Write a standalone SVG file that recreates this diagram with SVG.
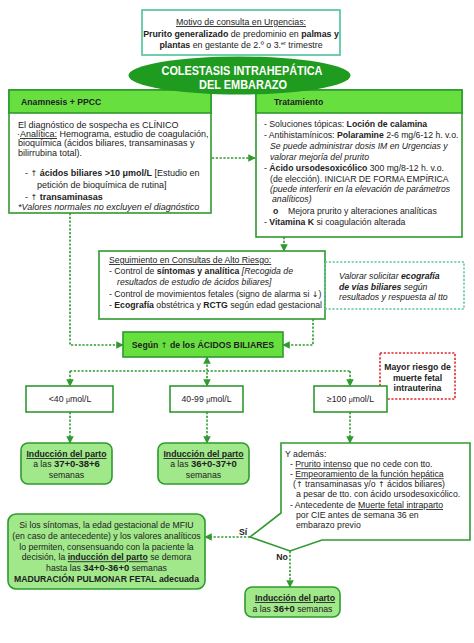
<svg xmlns="http://www.w3.org/2000/svg" width="474" height="643" viewBox="0 0 474 643">
<defs>
<style>
text{font-family:"Liberation Sans",Arial,sans-serif;font-size:8.7px;fill:#222}
.b{font-weight:bold}
.i{font-style:italic}
.u{text-decoration:underline}
.c{text-anchor:middle}
.ar{font-family:"DejaVu Sans",sans-serif;font-size:8px}
.box{fill:#fff;stroke:#2f9a2f;stroke-width:1.6}
.hdr{fill:#67e03f;stroke:#2f9a2f;stroke-width:1.6}
.ind{fill:#a0e88a;stroke:#2f9a2f;stroke-width:1.6}
.con{fill:none;stroke:#2f9a2f;stroke-width:1.6;stroke-dasharray:2.2 1.6}
.teal{fill:#fff;stroke:#5fc8a4;stroke-width:1.8}
.tdash{fill:none;stroke:#5fc8a4;stroke-width:1.6;stroke-dasharray:2.2 1.6}
.red{fill:#fff;stroke:#e0282e;stroke-width:1.6;stroke-dasharray:2.2 1.6}
</style>
<marker id="ah" viewBox="0 0 10 10" refX="9" refY="5" markerWidth="7.5" markerHeight="7.5" markerUnits="userSpaceOnUse" orient="auto-start-reverse">
<path d="M0,0 L10,5 L0,10 z" fill="#2f9a2f"/>
</marker>
</defs>
<rect width="474" height="643" fill="#fff"/>

<g id="connectors">
<path class="con" d="M212,158 H255" marker-end="url(#ah)"/>
<path class="con" d="M284,237 V251" marker-end="url(#ah)"/>
<path class="con" d="M70,213 V345 H123" marker-end="url(#ah)"/>
<path class="con" d="M313,319 V345 H283" marker-end="url(#ah)"/>
<path class="con" d="M207,357 V386" marker-start="url(#ah)" marker-end="url(#ah)"/>
<path class="con" d="M70,371 H350"/>
<path class="con" d="M70,371 V386" marker-end="url(#ah)"/>
<path class="con" d="M350,371 V386" marker-end="url(#ah)"/>
<path class="con" d="M70,412 V443" marker-end="url(#ah)"/>
<path class="con" d="M207,412 V443" marker-end="url(#ah)"/>
<path class="con" d="M350,412 V443" marker-end="url(#ah)"/>
<path class="con" d="M250,537 H205" marker-end="url(#ah)"/>
<path class="con" d="M290,551 V587" marker-end="url(#ah)"/>
<text class="b" x="243" y="535" text-anchor="middle">Sí</text>
<text class="b" x="282" y="560" text-anchor="middle">No</text>
</g>

<g id="motivo">
<rect class="teal" x="142" y="10" width="198" height="45"/>
<text class="c" x="241" y="25" style="font-size:8.8px"><tspan class="u">Motivo de consulta en Urgencias:</tspan></text>
<text class="c" x="241" y="36.5" style="font-size:8.8px"><tspan class="b">Prurito generalizado</tspan> de predominio en <tspan class="b">palmas y</tspan></text>
<text class="c" x="241" y="48" style="font-size:8.8px"><tspan class="b">plantas</tspan> en gestante de 2.º o 3.<tspan dy="-3" style="font-size:5.5px">er</tspan><tspan dy="3"> trimestre</tspan></text>
</g>

<g id="anamnesis">
<rect class="box" x="9" y="90" width="202" height="123"/>
<rect class="hdr" x="9" y="90" width="202" height="23"/>
<text class="b" x="21" y="104.5">Anamnesis + PPCC</text>
<text x="18" y="128" style="font-size:9px">El diagnóstico de sospecha es CLÍNICO</text>
<text x="17" y="137" style="font-size:9px">·<tspan class="u">Analítica:</tspan> Hemograma, estudio de coagulación,</text>
<text x="18" y="146.3" style="font-size:9px">bioquímica (ácidos biliares, transaminasas y</text>
<text x="18" y="155.6" style="font-size:9px">bilirrubina total).</text>
<text x="25" y="175.5" style="font-size:9px">- <tspan class="ar">↑</tspan> <tspan class="b">ácidos biliares &gt;10 μmol/L</tspan> [Estudio en</text>
<text x="37" y="188" style="font-size:9px">petición de bioquímica de rutina]</text>
<text x="25" y="199.5" style="font-size:9px">- <tspan class="ar">↑</tspan> <tspan class="b">transaminasas</tspan></text>
<text class="i" x="18" y="210" style="font-size:9px">*Valores normales no excluyen el diagnóstico</text>
</g>

<g id="tratamiento">
<rect class="box" x="256" y="90" width="206" height="147"/>
<rect class="hdr" x="256" y="90" width="206" height="23"/>
<text class="b" x="274" y="104.5">Tratamiento</text>
<text x="264" y="127">- Soluciones tópicas: <tspan class="b">Loción de calamina</tspan></text>
<text x="264" y="138">- Antihistamínicos: <tspan class="b">Polaramine</tspan> 2-6 mg/6-12 h. v.o.</text>
<text class="i" x="270" y="149">Se puede administrar dosis IM en Urgencias y</text>
<text class="i" x="270" y="159.7">valorar mejoría del prurito</text>
<text x="264" y="170.7">- <tspan class="b">Ácido ursodesoxicólico</tspan> 300 mg/8-12 h. v.o.</text>
<text x="270" y="181.7">(de elección). INICIAR DE FORMA EMPÍRICA</text>
<text class="i" x="270" y="192.3">(puede interferir en la elevación de parámetros</text>
<text class="i" x="272" y="202.3">analíticos)</text>
<text class="b" x="273" y="213.7">o</text>
<text x="288" y="213.7">Mejora prurito y alteraciones analíticas</text>
<text x="264" y="224.7">- <tspan class="b">Vitamina K</tspan> si coagulación alterada</text>
</g>

<g id="colestasis">
<ellipse cx="239.5" cy="75.5" rx="111" ry="19" fill="#1f9c1f"/>
<text class="b c" x="242" y="74.5" style="font-size:13px;fill:#fff" textLength="161" lengthAdjust="spacingAndGlyphs">COLESTASIS INTRAHEPÁTICA</text>
<text class="b c" x="243" y="89" style="font-size:13px;fill:#fff" textLength="88" lengthAdjust="spacingAndGlyphs">DEL EMBARAZO</text>
</g>

<g id="seguimiento">
<rect class="box" x="99" y="251" width="226" height="68"/>
<text class="u" x="109" y="263">Seguimiento en Consultas de Alto Riesgo:</text>
<text x="109" y="274">- Control de <tspan class="b">síntomas y analítica</tspan> <tspan class="i">[Recogida de</tspan></text>
<text class="i" x="117" y="284.7">resultados de estudio de ácidos biliares]</text>
<text x="109" y="297">- Control de movimientos fetales (signo de alarma si <tspan class="ar">↓</tspan>)</text>
<text x="109" y="307.5">- <tspan class="b">Ecografía</tspan> obstétrica y <tspan class="b">RCTG</tspan> según edad gestacional</text>
</g>

<g id="ecografia">
<rect class="tdash" x="325" y="262" width="139" height="47"/>
<text class="i" x="339" y="279">Valorar solicitar <tspan class="b">ecografía</tspan></text>
<text class="i" x="339" y="289.5"><tspan class="b">de vías biliares</tspan> según</text>
<text class="i" x="339" y="300">resultados y respuesta al tto</text>
</g>

<g id="segun">
<rect class="hdr" x="123" y="332" width="160" height="25"/>
<text class="b c" x="203" y="348.3">Según <tspan class="ar" style="font-weight:normal">↑</tspan> de los ÁCIDOS BILIARES</text>
</g>

<g id="riesgo">
<rect class="red" x="380" y="353" width="75" height="46"/>
<text class="b c" x="417.5" y="370">Mayor riesgo de</text>
<text class="b c" x="417.5" y="380.5">muerte fetal</text>
<text class="b c" x="417.5" y="391">intrauterina</text>
</g>

<g id="menos40">
<rect class="box" x="26" y="386" width="87" height="26"/>
<text class="c" x="70" y="402">&lt;40 <tspan style="font-size:7px">μ</tspan>mol/L</text>
</g>
<g id="de40a99">
<rect class="box" x="170" y="386" width="73" height="26"/>
<text class="c" x="206.5" y="402">40-99 <tspan style="font-size:7px">μ</tspan>mol/L</text>
</g>
<g id="mas100">
<rect class="box" x="314" y="386" width="73" height="26"/>
<text class="c" x="350.5" y="402">≥100 <tspan style="font-size:7px">μ</tspan>mol/L</text>
</g>

<g id="induccion1">
<rect class="ind" x="21" y="443" width="91" height="41" rx="7"/>
<text class="b u c" x="66.5" y="457">Inducción del parto</text>
<text class="c" x="66.5" y="467.3">a las <tspan class="b" style="font-size:9.5px">37+0-38+6</tspan></text>
<text class="c" x="66.5" y="477.8">semanas</text>
</g>
<g id="induccion2">
<rect class="ind" x="158" y="443" width="91" height="41" rx="7"/>
<text class="b u c" x="203.5" y="457">Inducción del parto</text>
<text class="c" x="203.5" y="467.3">a las <tspan class="b" style="font-size:9.5px">36+0-37+0</tspan></text>
<text class="c" x="203.5" y="477.8">semanas</text>
</g>

<g id="ademas">
<path class="box" d="M281,443 H470 V540 H322 L290,551 L250,537 L281,513 Z" stroke-linejoin="miter"/>
<text x="285" y="457">Y además:</text>
<text x="290" y="467.3">- <tspan class="u">Prurito intenso</tspan> que no cede con tto.</text>
<text x="290" y="477.3">- <tspan class="u">Empeoramiento de la función hepática</tspan></text>
<text x="293" y="487.3">(<tspan class="ar">↑</tspan> transaminasas y/o <tspan class="ar">↑</tspan> ácidos biliares)</text>
<text x="296" y="497.3">a pesar de tto. con ácido ursodesoxicólico.</text>
<text x="290" y="508">- Antecedente de <tspan class="u">Muerte fetal intraparto</tspan></text>
<text x="296" y="518">por CIE antes de semana 36 en</text>
<text x="296" y="528">embarazo previo</text>
</g>

<g id="demora">
<rect class="ind" x="8" y="514" width="197" height="75" rx="8"/>
<text class="c" x="106.5" y="528">Si los síntomas, la edad gestacional de MFIU</text>
<text class="c" x="106.5" y="538.7">(en caso de antecedente) y los valores analíticos</text>
<text class="c" x="106.5" y="549.7">lo permiten, consensuando con la paciente la</text>
<text class="c" x="106.5" y="560.3">decisión, la <tspan class="b u">inducción del parto</tspan> se demora</text>
<text class="c" x="106.5" y="571.3">hasta las <tspan class="b" style="font-size:9.5px">34+0-36+0</tspan> semanas</text>
<text class="b c" x="106.5" y="582.3">MADURACIÓN PULMONAR FETAL adecuada</text>
</g>

<g id="induccion3">
<rect class="ind" x="245" y="587" width="95" height="30" rx="7"/>
<text class="b u c" x="295" y="601">Inducción del parto</text>
<text class="c" x="292.5" y="612">a las <tspan class="b" style="font-size:9.5px">36+0</tspan> semanas</text>
</g>
</svg>
